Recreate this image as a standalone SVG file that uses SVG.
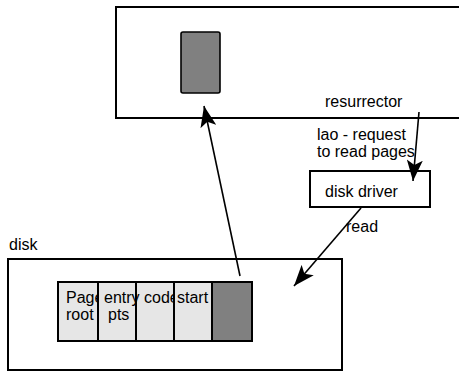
<svg xmlns="http://www.w3.org/2000/svg" width="459" height="373" viewBox="0 0 459 373">
  <style>
    .box { fill: #ffffff; stroke: #000000; stroke-width: 2; }
    .cell { fill: #e6e6e6; stroke: none; }
    .dark { fill: #808080; }
    .edge { fill: none; stroke: #000000; stroke-width: 2; }
    .lbl { font-family: "Liberation Sans", Arial, sans-serif; font-size: 16px; fill: #000000; }
    .conn { fill: none; stroke: #000000; stroke-width: 1.6; }
  </style>
  <defs>
    <marker id="head" markerUnits="userSpaceOnUse" markerWidth="22" markerHeight="16" refX="21" refY="8" orient="auto">
      <path d="M0,0 L21,8 L0,16 L5,8 Z" fill="#000000"/>
    </marker>
    <clipPath id="clip-c1"><rect x="58" y="282" width="40" height="59"/></clipPath>
    <clipPath id="clip-c3"><rect x="136" y="282" width="38" height="59"/></clipPath>
    <clipPath id="clip-c4"><rect x="174" y="282" width="38" height="59"/></clipPath>
  </defs>

  <!-- memory (top area) -->
  <g id="memory">
    <rect class="box" x="116" y="7" width="352" height="111"/>
    <rect class="dark" x="181" y="32" width="39" height="61" rx="2" stroke="#000000" stroke-width="1.6"/>
    <text class="lbl" x="325" y="107">resurrector</text>
  </g>

  <!-- disk driver -->
  <g id="disk-driver">
    <rect class="box" x="310" y="171" width="120" height="36"/>
    <text class="lbl" x="325" y="197">disk driver</text>
  </g>

  <!-- disk with page records -->
  <g id="disk">
    <text class="lbl" x="9" y="250">disk</text>
    <rect class="box" x="8" y="259" width="334" height="111"/>
    <g id="page">
      <rect class="cell" x="58" y="282" width="154" height="59"/>
      <rect class="dark" x="212" y="282" width="40" height="59"/>
      <text class="lbl" x="66" y="303" clip-path="url(#clip-c1)">Page</text>
      <text class="lbl" x="66" y="320">root</text>
      <text class="lbl" x="104" y="303">entry</text>
      <text class="lbl" x="108" y="320">pts</text>
      <text class="lbl" x="144" y="303" clip-path="url(#clip-c3)">code</text>
      <text class="lbl" x="177" y="303" clip-path="url(#clip-c4)">start</text>
      <rect class="edge" x="58" y="282" width="194" height="59"/>
      <path class="edge" d="M98,282 V341 M136,282 V341 M174,282 V341 M212,282 V341"/>
    </g>
  </g>

  <!-- connector labels -->
  <g id="labels">
    <text class="lbl" x="317" y="140">lao - request</text>
    <text class="lbl" x="317" y="157">to read pages</text>
    <text class="lbl" x="346" y="232">read</text>
  </g>

  <!-- connectors -->
  <g id="connectors">
    <line class="conn" x1="240" y1="276" x2="204" y2="106" marker-end="url(#head)"/>
    <line class="conn" x1="419" y1="112" x2="413" y2="181" marker-end="url(#head)"/>
    <line class="conn" x1="361" y1="208" x2="294" y2="286" marker-end="url(#head)"/>
  </g>
</svg>
